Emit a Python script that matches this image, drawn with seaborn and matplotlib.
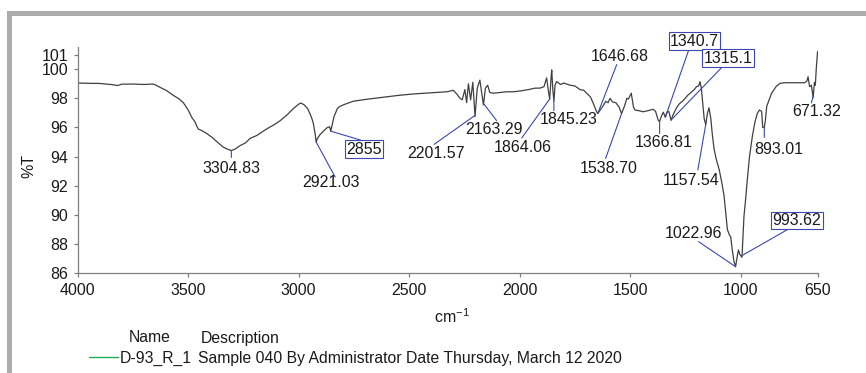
import numpy as np
import pandas as pd
import matplotlib
matplotlib.use("Agg")
import matplotlib.pyplot as plt
from matplotlib.patches import Rectangle
from matplotlib.lines import Line2D
import seaborn as sns

# ---------------- data ----------------
wavenumber = [
    4000, 3950, 3900, 3850, 3820, 3800, 3750, 3700, 3660, 3645, 3627, 3600, 3567, 3540, 3522,
    3500, 3484, 3470, 3455, 3440, 3417, 3390, 3372, 3341, 3320, 3305, 3290, 3266, 3240, 3220,
    3190, 3160, 3145, 3110, 3085, 3050, 3024, 3000, 2990, 2975, 2960, 2949, 2940, 2934, 2925,
    2921, 2915, 2904, 2885, 2870, 2860, 2855, 2848, 2840, 2825, 2813, 2790, 2753, 2700, 2632,
    2550, 2481, 2400, 2330, 2300, 2285, 2270, 2260, 2248, 2240, 2232, 2222, 2212, 2202, 2192,
    2180, 2172, 2164, 2155, 2145, 2135, 2119, 2090, 2060, 2028, 2000, 1960, 1930, 1908, 1890,
    1878, 1870, 1864, 1858, 1855, 1850, 1845, 1840, 1833, 1815, 1800, 1772, 1750, 1727, 1710,
    1697, 1680, 1667, 1655, 1647, 1640, 1622, 1610, 1600, 1591, 1580, 1565, 1550, 1539, 1525,
    1515, 1508, 1495, 1485, 1478, 1460, 1441, 1420, 1396, 1385, 1373, 1367, 1358, 1350, 1341,
    1333, 1325, 1315, 1305, 1290, 1279, 1260, 1240, 1225, 1210, 1200, 1190, 1184, 1178, 1173,
    1165, 1158, 1150, 1143, 1135, 1128, 1120, 1110, 1097, 1085, 1075, 1065, 1060, 1050, 1045,
    1038, 1030, 1023, 1015, 1010, 1004, 994, 985, 978, 970, 960, 947, 935, 925, 915,
    905, 900, 893, 888, 882, 870, 860, 840, 822, 800, 777, 740, 710, 700, 695,
    688, 680, 672, 666, 662, 658, 652, 650,
]
transmittance = [
    99.05, 99.03, 99.02, 98.95, 98.88, 98.97, 98.98, 98.95, 98.98, 98.9, 98.75, 98.55, 98.2, 97.95, 97.7,
    97.2, 96.7, 96.4, 95.9, 95.8, 95.6, 95.3, 95.05, 94.65, 94.5, 94.42, 94.5, 94.75, 94.95, 95.25,
    95.45, 95.75, 95.9, 96.2, 96.45, 96.9, 97.3, 97.6, 97.68, 97.55, 97.3, 96.95, 96.6, 96.3, 95.5,
    95.0, 95.25, 95.5, 95.8, 96.0, 96.05, 95.75, 96.2, 96.75, 97.3, 97.45, 97.6, 97.8, 97.92, 98.05,
    98.2, 98.3, 98.38, 98.45, 98.55, 98.3, 98.0, 97.9, 98.6, 97.7, 99.0, 97.9, 99.1, 96.75, 98.7,
    99.25, 98.4, 97.55, 98.7, 98.9, 98.4, 98.35, 98.4, 98.45, 98.45, 98.5, 98.6, 98.7, 98.7, 98.8,
    99.4, 98.5, 97.95, 99.4, 99.95, 98.6, 97.8, 98.9, 99.15, 98.95, 99.05, 98.9, 98.85, 98.6, 98.55,
    98.35, 98.1, 97.66, 97.2, 96.95, 97.1, 97.5, 97.8, 97.7, 98.0, 97.75, 97.7, 97.4, 96.95, 97.5,
    98.0, 97.95, 98.35, 97.4, 97.2, 97.15, 97.08, 97.15, 97.25, 97.1, 96.5, 96.4, 96.8, 97.05, 96.7,
    97.05, 97.1, 96.5, 96.9, 97.35, 97.6, 97.85, 98.2, 98.4, 98.6, 98.8, 98.85, 99.15, 98.7, 97.9,
    96.6, 96.2, 97.0, 97.35, 96.6, 95.5, 94.5, 93.8, 93.1, 92.2, 91.3, 89.8, 89.0, 88.6, 88.5,
    87.6, 86.8, 86.45, 87.2, 87.6, 87.3, 87.1, 89.9, 91.0, 92.4, 94.0, 95.4, 96.4, 96.95, 97.2,
    97.1, 96.0, 96.0, 96.5, 97.45, 97.95, 98.35, 98.8, 99.03, 99.07, 99.07, 99.07, 99.07, 99.2, 99.48,
    98.8, 98.9, 98.05, 99.1, 98.9, 100.0, 101.2, 101.2,
]

peak_labels = ["3304.83", "2921.03", "2855", "2201.57", "2163.29", "1864.06", "1845.23",
               "1646.68", "1538.70", "1366.81", "1340.7", "1315.1", "1157.54", "1022.96",
               "993.62", "893.01", "671.32"]
peak_wn = [3304.83, 2921.03, 2855, 2201.57, 2163.29, 1864.06, 1845.23, 1646.68, 1538.70,
           1366.81, 1340.7, 1315.1, 1157.54, 1022.96, 993.62, 893.01, 671.32]
peak_boxed = [False, False, True, False, False, False, False, False, False, False,
              True, True, False, False, True, False, False]

x_ticks = [4000, 3500, 3000, 2500, 2000, 1500, 1000, 650]
y_ticks = [86, 88, 90, 92, 94, 96, 98, 100, 101]

legend_name = "D-93_R_1"
legend_desc = "Sample 040 By Administrator Date Thursday, March 12 2020"

# ---------------- layout (pixel offsets: line end dx,dy ; text centre dx,dy; image y down) --------
label_layout = [
    (0, 7, 0, 18),
    (19, 35, 15, 40),
    (30, 9, 33, 18),
    (-41, 29, -39, 38),
    (13, 17, 10, 26),
    (-28, 39, -27, 49),
    (0, 10, 15, 19),
    (19, -49, 22, -57),
    (-16, 45, -13, 55),
    (0, 12, 4, 21),
    (24, -69, 29, -76),
    (52, -54, 57, -62),
    (-8, 46, -15, 57),
    (-37, -25, -42, -33),
    (49, -28, 55, -35),
    (0, 10, 14, 22),
    (-2, 7, 3, 16),
]

FS = 11.5

sns.set_style("white")
plt.rcParams["font.family"] = ["Liberation Sans", "DejaVu Sans"]
plt.rcParams["mathtext.fontset"] = "custom"
plt.rcParams["mathtext.rm"] = "Liberation Sans"
plt.rcParams["mathtext.default"] = "regular"

W, H = 866, 373
fig = plt.figure(figsize=(W / 100, H / 100), dpi=100)
fig.patch.set_facecolor("white")

# grey frame (top and left bands)
frame_col = "#acacae"
fig.add_artist(Rectangle((7 / W, 0), 5 / W, 1 - 11 / H, transform=fig.transFigure,
                         facecolor=frame_col, edgecolor="none"))
fig.add_artist(Rectangle((7 / W, 1 - 16 / H), 1 - 7 / W, 5 / H, transform=fig.transFigure,
                         facecolor=frame_col, edgecolor="none"))

ax = fig.add_axes([77.7 / W, 1 - 273.3 / H, (818 - 77.7) / W, (273.3 - 47.3) / H])
ax.set_facecolor("none")

df = pd.DataFrame({"wn": wavenumber, "T": transmittance})
sns.lineplot(data=df, x="wn", y="T", ax=ax, sort=False, color="#404040", lw=0.9,
             estimator=None)

ax.set_xlim(4000, 650)
ax.set_ylim(86, 101.5)
ax.set_xticks(x_ticks)
ax.set_xticklabels([str(t) for t in x_ticks])
ax.set_yticks(y_ticks)
ax.set_yticklabels([str(t) for t in y_ticks])
ax.set_xlabel("")
ax.set_ylabel("")
for s in ["top", "right"]:
    ax.spines[s].set_visible(False)
for s in ["left", "bottom"]:
    ax.spines[s].set_color("#7f7f7f")
    ax.spines[s].set_linewidth(0.9)
ax.tick_params(axis="both", direction="out", length=3, width=0.9, color="#7f7f7f",
               labelsize=FS, labelcolor="#1a1a1a", pad=4, left=True, bottom=True)

# annotations
blue = "#3a48b0"
wn_arr = np.array(wavenumber[::-1], dtype=float)
t_arr = np.array(transmittance[::-1], dtype=float)
for lab, wn, boxed, (ldx, ldy, tdx, tdy) in zip(peak_labels, peak_wn, peak_boxed, label_layout):
    yv = float(np.interp(wn, wn_arr, t_arr))
    ax.annotate("", xy=(wn, yv), xytext=(ldx, -ldy), textcoords="offset pixels",
                arrowprops=dict(arrowstyle="-", color=blue, lw=0.8, shrinkA=0, shrinkB=0))
    bbox = None
    if boxed:
        bbox = dict(boxstyle="square,pad=0.08", facecolor="white", edgecolor=blue, lw=0.8)
    ax.annotate(lab, xy=(wn, yv), xytext=(tdx, -tdy), textcoords="offset pixels",
                ha="center", va="center", fontsize=FS, color="#1a1a1a", bbox=bbox)

# axis labels
fig.text(29 / W, 1 - 166 / H, "%T", rotation=90, ha="center", va="center", fontsize=FS,
         color="#1a1a1a")
fig.text(452 / W, 1 - 317 / H, "cm$^{-1}$", ha="center", va="center", fontsize=FS,
         color="#1a1a1a")

# legend block
LFS = 11.3
fig.text(128.3 / W, 1 - 342.5 / H, "Name", ha="left", va="baseline", fontsize=LFS,
         color="#1a1a1a")
fig.text(200.7 / W, 1 - 342.5 / H, "Description", ha="left", va="baseline", fontsize=LFS,
         color="#1a1a1a")
fig.add_artist(Line2D([89.3 / W, 118.3 / W], [1 - 357.3 / H, 1 - 357.3 / H],
                      transform=fig.transFigure, color="#22aa55", lw=1.0))
fig.text(119.3 / W, 1 - 362.5 / H, legend_name, ha="left", va="baseline", fontsize=LFS,
         color="#1a1a1a")
fig.text(198.3 / W, 1 - 362.5 / H, legend_desc, ha="left", va="baseline", fontsize=LFS,
         color="#1a1a1a")

fig.savefig("out.png", dpi=100)
